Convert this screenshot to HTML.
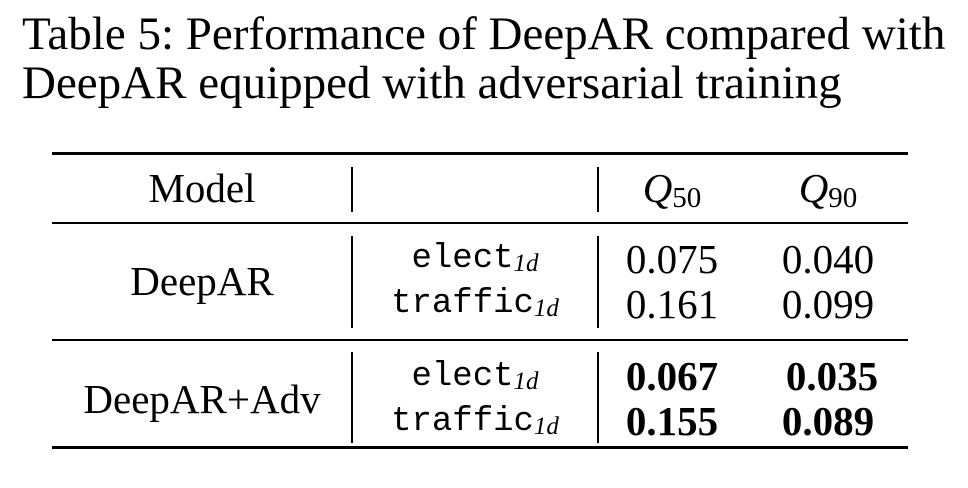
<!DOCTYPE html>
<html><head><meta charset="utf-8">
<style>
html,body{margin:0;padding:0;background:#fff;}
body{width:968px;height:488px;position:relative;overflow:hidden;font-family:"Liberation Serif",serif;color:#000;}
.t{position:absolute;white-space:nowrap;line-height:1;}
.cap{font-size:47px;left:22px;}
.c{transform:translateX(-50%);font-size:41px;}
.m{font-family:"Liberation Mono",monospace;font-size:34px;}
.m i{font-family:"Liberation Serif",serif;font-size:25px;position:relative;top:4px;}
.rule{position:absolute;left:52px;width:856px;background:#000;}
.vb{position:absolute;width:2px;background:#000;}
b{font-weight:bold;}
.sub{font-style:normal;font-size:29px;position:relative;top:5px;}
</style></head><body>
<div class="t cap" style="top:11px">Table 5: Performance of DeepAR compared with</div>
<div class="t cap" style="top:60px">DeepAR equipped with adversarial training</div>

<div class="rule" style="top:152px;height:3px"></div>
<div class="rule" style="top:222px;height:2px"></div>
<div class="rule" style="top:339px;height:2px"></div>
<div class="rule" style="top:446px;height:3px"></div>

<div class="vb" style="left:351px;top:167px;height:45px"></div>
<div class="vb" style="left:597px;top:167px;height:45px"></div>
<div class="vb" style="left:351px;top:236px;height:92px"></div>
<div class="vb" style="left:597px;top:236px;height:92px"></div>
<div class="vb" style="left:351px;top:352px;height:91px"></div>
<div class="vb" style="left:597px;top:352px;height:91px"></div>

<div class="t c" style="left:202px;top:168px">Model</div>
<div class="t c" style="left:672px;top:168px;font-style:italic">Q<span class="sub">50</span></div>
<div class="t c" style="left:828px;top:168px;font-style:italic">Q<span class="sub">90</span></div>

<div class="t c" style="left:202px;top:261px">DeepAR</div>
<div class="t c m" style="left:475px;top:242px">elect<i>1d</i></div>
<div class="t c m" style="left:475px;top:287px">traffic<i>1d</i></div>
<div class="t c" style="left:672px;top:239px">0.075</div>
<div class="t c" style="left:828px;top:239px">0.040</div>
<div class="t c" style="left:672px;top:284px">0.161</div>
<div class="t c" style="left:828px;top:284px">0.099</div>

<div class="t c" style="left:202px;top:379px">DeepAR+Adv</div>
<div class="t c m" style="left:475px;top:360px">elect<i>1d</i></div>
<div class="t c m" style="left:475px;top:405px">traffic<i>1d</i></div>
<div class="t c" style="left:672px;top:356px"><b>0.067</b></div>
<div class="t c" style="left:832px;top:356px"><b>0.035</b></div>
<div class="t c" style="left:672px;top:401px"><b>0.155</b></div>
<div class="t c" style="left:828px;top:401px"><b>0.089</b></div>
</body></html>
